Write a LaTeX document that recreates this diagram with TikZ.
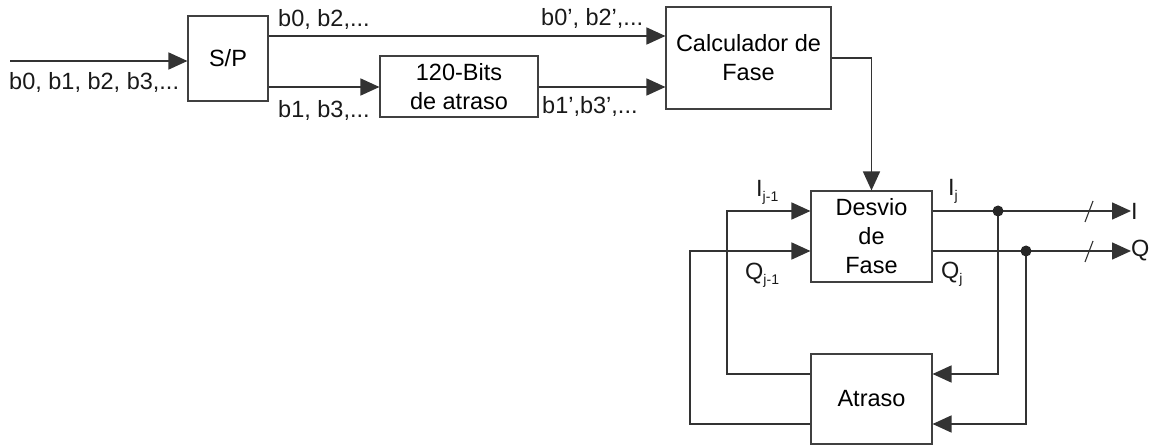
\documentclass[tikz,border=0pt]{standalone}
\usepackage{fontspec}
\setmainfont{Liberation Sans}
\usetikzlibrary{arrows.meta}
\newcommand\dgfont{\fontsize{23.5}{29}\selectfont}
\newcommand\sbs[1]{\raisebox{-5pt}{\fontsize{14}{14}\selectfont #1}}
\begin{document}
\begin{tikzpicture}[x=1pt,y=-1pt,
  box/.style={draw=black!75, line width=1.1pt, inner sep=0pt, align=center, font=\dgfont},
  lbl/.style={inner sep=0pt, font=\dgfont, anchor=base west, text=black!90},
  wire/.style={draw=black!80, line width=1.6pt},
  arr/.style={wire, -{Triangle[length=19pt,width=17pt]}},
  dot/.style={fill=black!85}]
\useasboundingbox (0,0) rectangle (1157,446);
% boxes
\node[box, minimum width=80pt, minimum height=85pt] (sp) at (228,58.5) {S/P};
\node[box, minimum width=158pt, minimum height=61pt] (bits) at (459,86.5) {120-Bits\\de atraso};
\node[box, minimum width=165pt, minimum height=102pt] (calc) at (748.5,58) {Calculador de\\Fase};
\node[box, minimum width=121pt, minimum height=91pt] (desvio) at (871.5,236.5) {Desvio\\de\\Fase};
\node[box, minimum width=121pt, minimum height=90pt] (atraso) at (871.5,399) {Atraso};
% coordinates
\coordinate (in) at (10,61);
\coordinate (dI) at (998,211);
\coordinate (dQ) at (1026,251);
\coordinate (lI) at (727,374);
\coordinate (lQ) at (690,424);
% output labels
\node[inner sep=0pt, font=\dgfont, anchor=west, text=black!90] (outI) at (1131,211) {I};
\node[inner sep=0pt, font=\dgfont, anchor=west, text=black!90] (outQ) at (1131,251) {Q};
% connectors
\draw[arr] (in) -- (in -| sp.west);
\draw[arr] (sp.east |- 0,36) -- (calc.west |- 0,36);
\draw[arr] (sp.east |- 0,87) -- (bits.west |- 0,87);
\draw[arr] (bits.east |- 0,87) -- (calc.west |- 0,87);
\draw[arr] (calc.east) -| (desvio.north);
\draw[arr] (desvio.east |- outI) -- (outI.west);
\draw[arr] (desvio.east |- outQ) -- (outQ.west);
\draw[arr] (dI) |- (atraso.east |- lI);
\draw[arr] (dQ) |- (atraso.east |- lQ);
\draw[arr] (atraso.west |- lI) -- (lI) |- (desvio.west |- dI);
\draw[arr] (atraso.west |- lQ) -- (lQ) |- (desvio.west |- dQ);
\fill[dot] (dI) circle (5.5pt);
\fill[dot] (dQ) circle (5.5pt);
% bus slashes
\draw[wire, line width=1.1pt] (1085,222) -- (1093,201);
\draw[wire, line width=1.1pt] (1085,262) -- (1093,241);
% labels
\node[lbl] (l0) at (9,90) {b0, b1, b2, b3,...};
\node[lbl] (l1) at (278,27) {b0, b2,...};
\node[lbl] (l2) at (278,118) {b1, b3,...};
\node[lbl] (l3) at (541,26) {b0', b2',...};
\node[lbl] (l4) at (542,114) {b1',b3',...};
\node[lbl] (l5) at (756,197) {I\sbs{j-1}};
\node[lbl] (l6) at (745,280) {Q\sbs{j-1}};
\node[lbl] (l7) at (948,196) {I\sbs{j}};
\node[lbl] (l8) at (941,279) {Q\sbs{j}};
\end{tikzpicture}
\end{document}
